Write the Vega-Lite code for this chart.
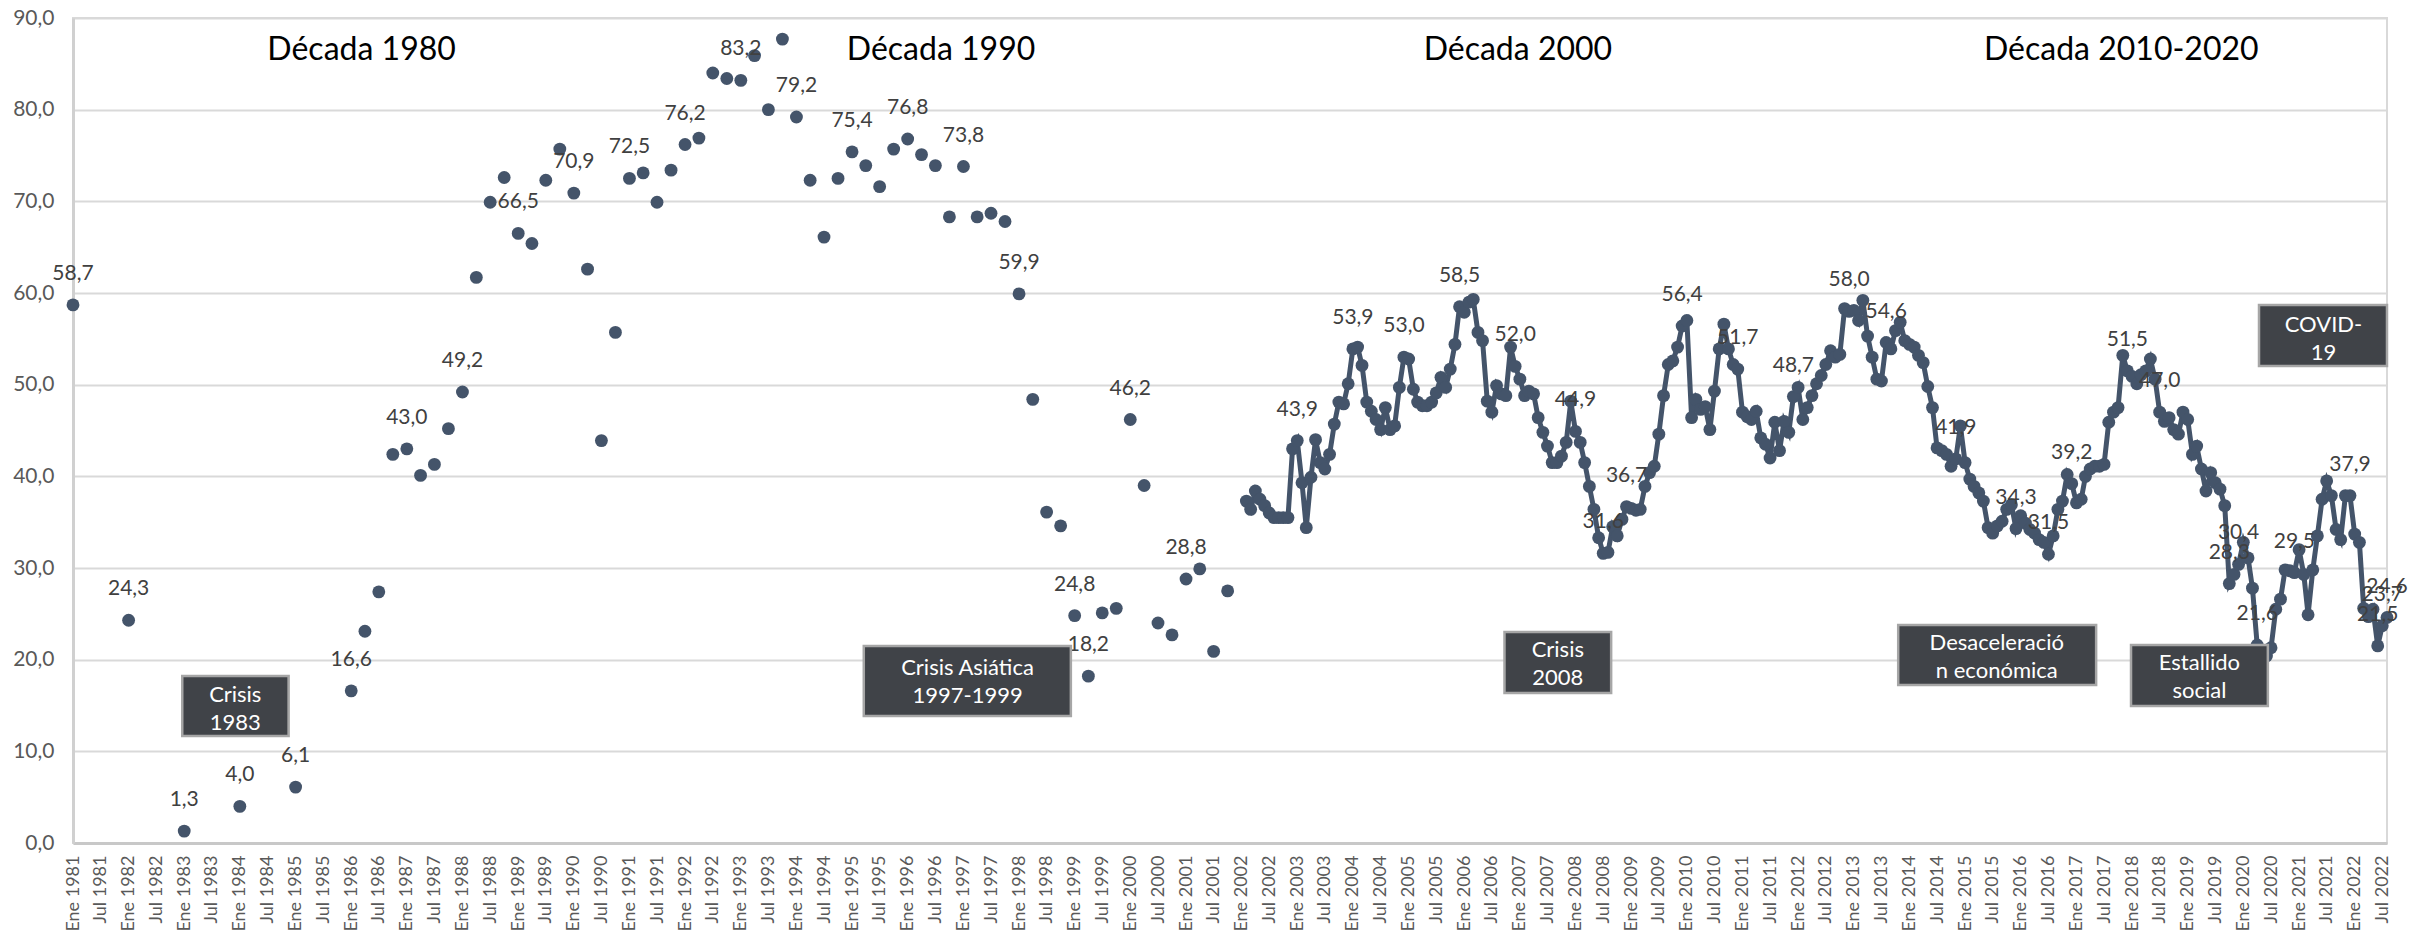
{
"$schema": "https://vega.github.io/schema/vega-lite/v6.json",
"width": 2314, "height": 825,
"autosize": {"type": "none"},
"padding": {"left": 73, "top": 18, "right": 25, "bottom": 91},
"background": "white",
"config": {"font": "Lato", "view": {"stroke": "#d9d9d9", "strokeWidth": 2}},
"data": {"values": [
{"d":"1981-01","v":58.7,"l":"58,7"},{"d":"1982-01","v":24.3,"l":"24,3"},{"d":"1983-01","v":1.3,"l":"1,3"},{"d":"1984-01","v":4.0,"l":"4,0"},{"d":"1985-01","v":6.1,"l":"6,1"},
{"d":"1986-01","v":16.6,"l":"16,6"},{"d":"1986-04","v":23.1},{"d":"1986-07","v":27.4},{"d":"1986-10","v":42.4},
{"d":"1987-01","v":43.0,"l":"43,0"},{"d":"1987-04","v":40.1},{"d":"1987-07","v":41.3},{"d":"1987-10","v":45.2},
{"d":"1988-01","v":49.2,"l":"49,2"},{"d":"1988-04","v":61.7},{"d":"1988-07","v":69.9},{"d":"1988-10","v":72.6},
{"d":"1989-01","v":66.5,"l":"66,5"},{"d":"1989-04","v":65.4},{"d":"1989-07","v":72.3},{"d":"1989-10","v":75.7},
{"d":"1990-01","v":70.9,"l":"70,9"},{"d":"1990-04","v":62.6},{"d":"1990-07","v":43.9},{"d":"1990-10","v":55.7},
{"d":"1991-01","v":72.5,"l":"72,5"},{"d":"1991-04","v":73.1},{"d":"1991-07","v":69.9},{"d":"1991-10","v":73.4},
{"d":"1992-01","v":76.2,"l":"76,2"},{"d":"1992-04","v":76.9},{"d":"1992-07","v":84.0},{"d":"1992-10","v":83.4},
{"d":"1993-01","v":83.2,"l":"83,2"},{"d":"1993-04","v":85.9},{"d":"1993-07","v":80.0},{"d":"1993-10","v":87.7},
{"d":"1994-01","v":79.2,"l":"79,2"},{"d":"1994-04","v":72.3},{"d":"1994-07","v":66.1},{"d":"1994-10","v":72.5},
{"d":"1995-01","v":75.4,"l":"75,4"},{"d":"1995-04","v":73.9},{"d":"1995-07","v":71.6},{"d":"1995-10","v":75.7},
{"d":"1996-01","v":76.8,"l":"76,8"},{"d":"1996-04","v":75.1},{"d":"1996-07","v":73.9},{"d":"1996-10","v":68.3},
{"d":"1997-01","v":73.8,"l":"73,8"},{"d":"1997-04","v":68.3},{"d":"1997-07","v":68.7},{"d":"1997-10","v":67.8},
{"d":"1998-01","v":59.9,"l":"59,9"},{"d":"1998-04","v":48.4},{"d":"1998-07","v":36.1},{"d":"1998-10","v":34.6},
{"d":"1999-01","v":24.8,"l":"24,8"},{"d":"1999-04","v":18.2,"l":"18,2"},{"d":"1999-07","v":25.1},{"d":"1999-10","v":25.6},
{"d":"2000-01","v":46.2,"l":"46,2"},{"d":"2000-04","v":39.0},{"d":"2000-07","v":24.0},{"d":"2000-10","v":22.7},
{"d":"2001-01","v":28.8,"l":"28,8"},{"d":"2001-04","v":29.9},{"d":"2001-07","v":20.9},{"d":"2001-10","v":27.5},
{"d":"2002-02","v":37.3},{"d":"2002-03","v":36.4},{"d":"2002-04","v":38.4},{"d":"2002-05","v":37.5},{"d":"2002-06","v":36.8},{"d":"2002-07","v":36.0},{"d":"2002-08","v":35.5},{"d":"2002-09","v":35.5},{"d":"2002-10","v":35.5},{"d":"2002-11","v":35.5},{"d":"2002-12","v":43.0},
{"d":"2003-01","v":43.9,"l":"43,9"},{"d":"2003-02","v":39.3},{"d":"2003-03","v":34.4},{"d":"2003-04","v":39.9},{"d":"2003-05","v":44.0},{"d":"2003-06","v":41.5},{"d":"2003-07","v":40.8},{"d":"2003-08","v":42.4},{"d":"2003-09","v":45.7},{"d":"2003-10","v":48.1},{"d":"2003-11","v":47.9},{"d":"2003-12","v":50.1},
{"d":"2004-01","v":53.9,"l":"53,9"},{"d":"2004-02","v":54.1},{"d":"2004-03","v":52.1},{"d":"2004-04","v":48.1},{"d":"2004-05","v":47.1},{"d":"2004-06","v":46.2},{"d":"2004-07","v":45.1},{"d":"2004-08","v":47.5},{"d":"2004-09","v":45.1},{"d":"2004-10","v":45.5},{"d":"2004-11","v":49.7},{"d":"2004-12","v":53.0,"l":"53,0"},
{"d":"2005-01","v":52.8},{"d":"2005-02","v":49.5},{"d":"2005-03","v":48.1},{"d":"2005-04","v":47.7},{"d":"2005-05","v":47.7},{"d":"2005-06","v":48.1},{"d":"2005-07","v":49.1},{"d":"2005-08","v":50.8},{"d":"2005-09","v":49.7},{"d":"2005-10","v":51.7},{"d":"2005-11","v":54.4},{"d":"2005-12","v":58.5,"l":"58,5"},
{"d":"2006-01","v":57.9},{"d":"2006-02","v":59.0},{"d":"2006-03","v":59.3},{"d":"2006-04","v":55.7},{"d":"2006-05","v":54.8},{"d":"2006-06","v":48.2},{"d":"2006-07","v":47.0},{"d":"2006-08","v":49.9},{"d":"2006-09","v":49.0},{"d":"2006-10","v":48.8},{"d":"2006-11","v":54.1},{"d":"2006-12","v":52.0,"l":"52,0"},
{"d":"2007-01","v":50.6},{"d":"2007-02","v":48.8},{"d":"2007-03","v":49.3},{"d":"2007-04","v":49.0},{"d":"2007-05","v":46.4},{"d":"2007-06","v":44.8},{"d":"2007-07","v":43.3},{"d":"2007-08","v":41.5},{"d":"2007-09","v":41.5},{"d":"2007-10","v":42.2},{"d":"2007-11","v":43.7},{"d":"2007-12","v":48.2},
{"d":"2008-01","v":44.9,"l":"44,9"},{"d":"2008-02","v":43.7},{"d":"2008-03","v":41.5},{"d":"2008-04","v":38.9},{"d":"2008-05","v":36.4},{"d":"2008-06","v":33.3},{"d":"2008-07","v":31.6,"l":"31,6"},{"d":"2008-08","v":31.7},{"d":"2008-09","v":34.5},{"d":"2008-10","v":33.5},{"d":"2008-11","v":35.3},{"d":"2008-12","v":36.7,"l":"36,7"},
{"d":"2009-01","v":36.5},{"d":"2009-02","v":36.3},{"d":"2009-03","v":36.4},{"d":"2009-04","v":38.9},{"d":"2009-05","v":40.4},{"d":"2009-06","v":41.1},{"d":"2009-07","v":44.6},{"d":"2009-08","v":48.8},{"d":"2009-09","v":52.2},{"d":"2009-10","v":52.6},{"d":"2009-11","v":54.1},{"d":"2009-12","v":56.4,"l":"56,4"},
{"d":"2010-01","v":57.0},{"d":"2010-02","v":46.4},{"d":"2010-03","v":48.4},{"d":"2010-04","v":47.3},{"d":"2010-05","v":47.6},{"d":"2010-06","v":45.1},{"d":"2010-07","v":49.3},{"d":"2010-08","v":53.9},{"d":"2010-09","v":56.6},{"d":"2010-10","v":53.9},{"d":"2010-11","v":52.2},{"d":"2010-12","v":51.7,"l":"51,7"},
{"d":"2011-01","v":47.0},{"d":"2011-02","v":46.5},{"d":"2011-03","v":46.2},{"d":"2011-04","v":47.1},{"d":"2011-05","v":44.2},{"d":"2011-06","v":43.5},{"d":"2011-07","v":42.0},{"d":"2011-08","v":45.9},{"d":"2011-09","v":42.8},{"d":"2011-10","v":46.0},{"d":"2011-11","v":44.8},{"d":"2011-12","v":48.7,"l":"48,7"},
{"d":"2012-01","v":49.7},{"d":"2012-02","v":46.2},{"d":"2012-03","v":47.5},{"d":"2012-04","v":48.8},{"d":"2012-05","v":50.1},{"d":"2012-06","v":51.0},{"d":"2012-07","v":52.2},{"d":"2012-08","v":53.7},{"d":"2012-09","v":53.0},{"d":"2012-10","v":53.3},{"d":"2012-11","v":58.3},{"d":"2012-12","v":58.0,"l":"58,0"},
{"d":"2013-01","v":58.1},{"d":"2013-02","v":57.0},{"d":"2013-03","v":59.2},{"d":"2013-04","v":55.3},{"d":"2013-05","v":53.0},{"d":"2013-06","v":50.6},{"d":"2013-07","v":50.4},{"d":"2013-08","v":54.6,"l":"54,6"},{"d":"2013-09","v":53.9},{"d":"2013-10","v":55.9},{"d":"2013-11","v":56.8},{"d":"2013-12","v":54.8},
{"d":"2014-01","v":54.4},{"d":"2014-02","v":54.1},{"d":"2014-03","v":53.2},{"d":"2014-04","v":52.4},{"d":"2014-05","v":49.8},{"d":"2014-06","v":47.5},{"d":"2014-07","v":43.1},{"d":"2014-08","v":42.8},{"d":"2014-09","v":42.4},{"d":"2014-10","v":41.1},{"d":"2014-11","v":41.9,"l":"41,9"},{"d":"2014-12","v":45.5},
{"d":"2015-01","v":41.5},{"d":"2015-02","v":39.7},{"d":"2015-03","v":38.9},{"d":"2015-04","v":38.2},{"d":"2015-05","v":37.3},{"d":"2015-06","v":34.4},{"d":"2015-07","v":33.8},{"d":"2015-08","v":34.6},{"d":"2015-09","v":35.1},{"d":"2015-10","v":36.4},{"d":"2015-11","v":36.9},{"d":"2015-12","v":34.3,"l":"34,3"},
{"d":"2016-01","v":35.7},{"d":"2016-02","v":34.9},{"d":"2016-03","v":34.2},{"d":"2016-04","v":33.8},{"d":"2016-05","v":33.1},{"d":"2016-06","v":32.8},{"d":"2016-07","v":31.5,"l":"31,5"},{"d":"2016-08","v":33.5},{"d":"2016-09","v":36.4},{"d":"2016-10","v":37.3},{"d":"2016-11","v":40.2},{"d":"2016-12","v":39.2,"l":"39,2"},
{"d":"2017-01","v":37.1},{"d":"2017-02","v":37.5},{"d":"2017-03","v":40.0},{"d":"2017-04","v":40.8},{"d":"2017-05","v":41.1},{"d":"2017-06","v":41.1},{"d":"2017-07","v":41.3},{"d":"2017-08","v":45.9},{"d":"2017-09","v":47.0},{"d":"2017-10","v":47.5},{"d":"2017-11","v":53.2},{"d":"2017-12","v":51.5,"l":"51,5"},
{"d":"2018-01","v":50.9},{"d":"2018-02","v":50.1},{"d":"2018-03","v":51.1},{"d":"2018-04","v":51.5},{"d":"2018-05","v":52.8},{"d":"2018-06","v":50.6},{"d":"2018-07","v":47.0,"l":"47,0"},{"d":"2018-08","v":46.0},{"d":"2018-09","v":46.4},{"d":"2018-10","v":45.1},{"d":"2018-11","v":44.6},{"d":"2018-12","v":47.0},
{"d":"2019-01","v":46.2},{"d":"2019-02","v":42.4},{"d":"2019-03","v":43.3},{"d":"2019-04","v":40.8},{"d":"2019-05","v":38.4},{"d":"2019-06","v":40.4},{"d":"2019-07","v":39.3},{"d":"2019-08","v":38.6},{"d":"2019-09","v":36.8},{"d":"2019-10","v":28.3,"l":"28,3"},{"d":"2019-11","v":29.3},{"d":"2019-12","v":30.4,"l":"30,4"},
{"d":"2020-01","v":32.8},{"d":"2020-02","v":31.1},{"d":"2020-03","v":27.8},{"d":"2020-04","v":21.6,"l":"21,6"},{"d":"2020-05","v":20.7},{"d":"2020-06","v":20.4},{"d":"2020-07","v":21.3},{"d":"2020-08","v":25.5},{"d":"2020-09","v":26.6},{"d":"2020-10","v":29.8},{"d":"2020-11","v":29.7},{"d":"2020-12","v":29.5,"l":"29,5"},
{"d":"2021-01","v":32.0},{"d":"2021-02","v":29.3},{"d":"2021-03","v":24.9},{"d":"2021-04","v":29.8},{"d":"2021-05","v":33.5},{"d":"2021-06","v":37.5},{"d":"2021-07","v":39.5},{"d":"2021-08","v":37.9},{"d":"2021-09","v":34.2},{"d":"2021-10","v":33.1},{"d":"2021-11","v":37.9},{"d":"2021-12","v":37.9,"l":"37,9"},
{"d":"2022-01","v":33.7},{"d":"2022-02","v":32.8},{"d":"2022-03","v":25.6},{"d":"2022-04","v":24.7},{"d":"2022-05","v":25.5},{"d":"2022-06","v":21.5,"l":"21,5"},{"d":"2022-07","v":23.7,"l":"23,7"},{"d":"2022-08","v":24.6,"l":"24,6"}
]},
"encoding": {
"x": {"field": "d", "type": "temporal",
 "scale": {"type": "utc", "domain": [{"year": 1981, "month": 1, "date": 1, "utc": true}, {"year": 2022, "month": 8, "date": 1, "utc": true}]},
 "axis": {"title": null, "tickCount": {"interval": "month", "step": 6},
  "labelExpr": "(utcmonth(datum.value) == 0 ? 'Ene ' : 'Jul ') + utcyear(datum.value)",
  "labelAngle": -90, "labelFontSize": 18, "labelColor": "#595959", "labelPadding": 12,
  "ticks": false, "grid": false, "domainColor": "#c8c8c8", "domainWidth": 3,
  "labelOverlap": false, "labelFlush": false, "labelBound": false}},
"y": {"field": "v", "type": "quantitative",
 "scale": {"domain": [0, 90], "nice": false},
 "axis": {"title": null, "values": [0, 10, 20, 30, 40, 50, 60, 70, 80, 90],
  "labelExpr": "replace(format(datum.value, '.1f'), '.', ',')",
  "labelFontSize": 21, "labelColor": "#595959", "labelPadding": 19, "ticks": false,
  "gridColor": "#d9d9d9", "gridWidth": 2, "domainColor": "#d0d0d0", "domainWidth": 3}}
},
"layer": [
{
"transform": [{"filter": "utcyear(datum.d) >= 2002"}],
"mark": {"type": "line", "color": "#44546a", "strokeWidth": 5}
},
{
"mark": {"type": "point", "filled": true, "opacity": 1, "size": 165, "color": "#44546a", "strokeWidth": 0}
},
{
"data": {"values": [{}]},
"mark": {"type": "rule", "color": "#ff0000", "strokeWidth": 5, "strokeDash": [18, 14.5], "clip": false},
"encoding": {"y": {"datum": 50}, "x": {"datum": {"year": 1980, "month": 8, "date": 10, "utc": true}}, "x2": {"datum": {"year": 2022, "month": 8, "date": 1, "utc": true}}}
},
{
"data": {"values": [{}]},
"mark": {"type": "rule", "color": "#ff0000", "strokeWidth": 5, "clip": false},
"encoding": {"y": {"datum": 50}, "x": {"datum": {"year": 1980, "month": 8, "date": 10, "utc": true}}, "x2": {"datum": {"year": 1981, "month": 7, "date": 1, "utc": true}}}
},
{
"transform": [{"filter": "datum.l"}],
"mark": {"type": "text", "fontSize": 21, "color": "#404040", "dy": -31, "baseline": "middle", "align": "center"},
"encoding": {"text": {"field": "l"}}
},
{
"data": {"values": [
{"x1":"1982-12-19","x2":"1984-11-16","y1":18.22,"y2":11.67},
{"x1":"1995-03-19","x2":"1998-12-07","y1":21.49,"y2":13.85},
{"x1":"2006-09-22","x2":"2008-08-22","y1":23.02,"y2":16.36},
{"x1":"2013-10-19","x2":"2017-05-10","y1":23.78,"y2":17.24},
{"x1":"2017-12-25","x2":"2020-06-10","y1":21.6,"y2":14.95},
{"x1":"2020-04-13","x2":"2022-08-01","y1":58.69,"y2":52.04}
]},
"mark": {"type": "rect", "fill": "#404348", "stroke": "#a6a6a6", "strokeWidth": 2.5, "clip": false},
"encoding": {"x": {"field": "x1", "type": "temporal"}, "x2": {"field": "x2"}, "y": {"field": "y1", "type": "quantitative"}, "y2": {"field": "y2"}}
},
{
"data": {"values": [
{"tx":"1983-12-02","ty":15.41,"t":"Crisis\n1983"},
{"tx":"1997-01-28","ty":18.33,"t":"Crisis Asiática\n1997-1999"},
{"tx":"2007-09-07","ty":20.32,"t":"Crisis\n2008"},
{"tx":"2015-07-28","ty":21.05,"t":"Desaceleració\nn económica"},
{"tx":"2019-03-19","ty":18.87,"t":"Estallido\nsocial"},
{"tx":"2021-06-10","ty":55.78,"t":"COVID-\n19"}
]},
"mark": {"type": "text", "color": "white", "fontSize": 22, "lineBreak": "\n", "lineHeight": 28, "align": "center", "baseline": "alphabetic"},
"encoding": {"x": {"field": "tx", "type": "temporal"}, "y": {"field": "ty", "type": "quantitative"}, "text": {"field": "t"}}
},
{
"data": {"values": [
{"tx":"1986-03-10","ty":85.42,"t":"Década 1980"},
{"tx":"1996-08-07","ty":85.42,"t":"Década 1990"},
{"tx":"2006-12-19","ty":85.42,"t":"Década 2000"},
{"tx":"2017-10-22","ty":85.42,"t":"Década 2010-2020"}
]},
"mark": {"type": "text", "color": "black", "fontSize": 32, "align": "center", "baseline": "alphabetic"},
"encoding": {"x": {"field": "tx", "type": "temporal"}, "y": {"field": "ty", "type": "quantitative"}, "text": {"field": "t"}}
}
]
}
